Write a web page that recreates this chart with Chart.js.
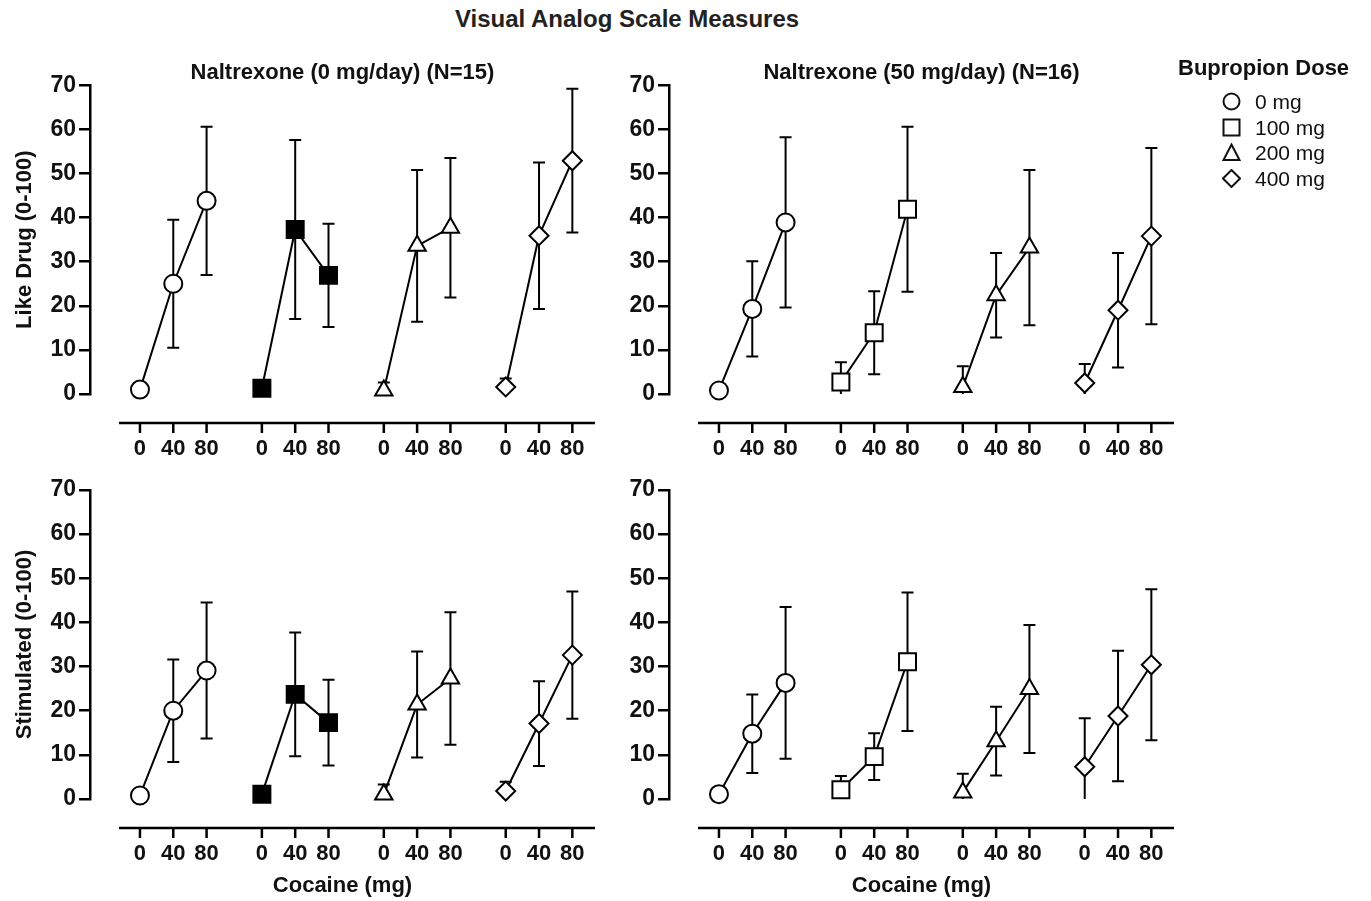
<!DOCTYPE html>
<html>
<head>
<meta charset="utf-8">
<script src="https://cdn.jsdelivr.net/npm/chart.js@4.4.1/dist/chart.umd.min.js"></script>
<style>
  body { margin: 0; background: #fff; font-family: "Liberation Sans", Arial, sans-serif; }
  #page { position: relative; width: 1371px; height: 901px; overflow: hidden; }
  canvas { position: absolute; }
  #mainTitle { position: absolute; left: 0; width: 1254px; top: 5px; text-align: center; font-weight: bold; font-size: 24px; color: #222; }
  #legend { position: absolute; left: 1178px; top: 55px; color: #111; }
  #legend .head { font-weight: bold; font-size: 22px; margin-bottom: 8px; }
  #legend .row { position: relative; height: 25.7px; font-size: 21px; line-height: 25px; padding-left: 77px; }
  #legend svg { position: absolute; left: 44px; top: 3px; }
</style>
</head>
<body>
<div id="page">
  <div id="mainTitle">Visual Analog Scale Measures</div>
  <canvas id="likeNal0" width="600" height="423" style="left:0;top:41px"></canvas>
  <canvas id="likeNal50" width="600" height="423" style="left:579px;top:41px"></canvas>
  <canvas id="stimNal0" width="600" height="429" style="left:0;top:470px"></canvas>
  <canvas id="stimNal50" width="600" height="429" style="left:579px;top:470px"></canvas>
  <div id="legend"></div>
</div>
<script>
// cocaine doses on the x axis, one group per bupropion dose
const cocaineDoses = ["0", "40", "80"];
const bupropionDoses = ["0 mg", "100 mg", "200 mg", "400 mg"];
const yTickValues = [0, 10, 20, 30, 40, 50, 60, 70];

// Like Drug, naltrexone 0 mg/day (rows = bupropion dose, cols = cocaine dose)
const likeNal0Mean = [[1.0, 25.0, 43.8], [1.3, 37.3, 26.9], [0.8, 33.6, 37.7], [1.6, 35.9, 52.9]];
const likeNal0Err = [[1.0, 14.5, 16.8], [1.0, 20.3, 11.7], [1.8, 17.2, 15.8], [1.9, 16.6, 16.3]];
// Like Drug, naltrexone 50 mg/day
const likeNal50Mean = [[0.8, 19.3, 38.9], [2.7, 13.9, 41.9], [1.6, 22.4, 33.2], [2.5, 19.0, 35.8]];
const likeNal50Err = [[0.8, 10.8, 19.3], [4.5, 9.4, 18.7], [4.7, 9.6, 17.6], [4.3, 13.0, 20.0]];
// Stimulated, naltrexone 0 mg/day
const stimNal0Mean = [[0.8, 20.0, 29.1], [1.1, 23.7, 17.3], [1.0, 21.4, 27.3], [1.8, 17.1, 32.6]];
const stimNal0Err = [[0.8, 11.6, 15.4], [1.0, 14.0, 9.7], [2.3, 12.0, 15.0], [2.1, 9.6, 14.4]];
// Stimulated, naltrexone 50 mg/day
const stimNal50Mean = [[1.1, 14.8, 26.3], [2.1, 9.6, 31.1], [1.5, 13.1, 24.9], [7.3, 18.8, 30.4]];
const stimNal50Err = [[1.1, 8.9, 17.2], [3.1, 5.3, 15.7], [4.2, 7.8, 14.5], [11.0, 14.8, 17.1]];

const GROUP_STEP = 3.66;   // gap between bupropion groups, in cocaine-step units
const X_LINE_START = -0.63;
const X_LINE_DROP = 29;    // x axis sits below the y=0 line
const FONT = "'Liberation Sans', Arial, sans-serif";

const markers = [
  { style: "circle", radius: 9 },
  { style: "rect", radius: 12 },
  { style: "triangle", radius: 10 },
  { style: "rectRot", radius: 9.5 },
];

const errorBars = {
  id: "errorBars",
  beforeDatasetsDraw(chart) {
    const { ctx, scales: { x, y } } = chart;
    ctx.save();
    ctx.strokeStyle = "#000";
    ctx.lineWidth = 2;
    chart.data.datasets.forEach((ds) => {
      ds.data.forEach((p, i) => {
        const e = ds.errors[i];
        const px = x.getPixelForValue(p.x);
        const top = y.getPixelForValue(p.y + e);
        const clipped = p.y - e < 0;
        const bot = y.getPixelForValue(Math.max(0, p.y - e));
        ctx.beginPath();
        ctx.moveTo(px, top);
        ctx.lineTo(px, bot);
        ctx.moveTo(px - 6, top);
        ctx.lineTo(px + 6, top);
        if (!clipped) {
          ctx.moveTo(px - 6, bot);
          ctx.lineTo(px + 6, bot);
        }
        ctx.stroke();
      });
    });
    ctx.restore();
  },
};

// the x axis line is drawn offset below the data, Prism style
const offsetXAxis = {
  id: "offsetXAxis",
  afterDraw(chart) {
    const { ctx, chartArea, scales: { x } } = chart;
    const yLine = chartArea.bottom + X_LINE_DROP;
    ctx.save();
    ctx.strokeStyle = "#000";
    ctx.lineWidth = 2.5;
    ctx.beginPath();
    ctx.moveTo(x.getPixelForValue(X_LINE_START), yLine);
    ctx.lineTo(chartArea.right, yLine);
    x.ticks.forEach((t) => {
      const px = x.getPixelForValue(t.value);
      ctx.moveTo(px, yLine);
      ctx.lineTo(px, yLine + 10);
    });
    ctx.stroke();
    ctx.restore();
  },
};

function makePanel(id, means, errs, opts) {
  const datasets = bupropionDoses.map((dose, g) => ({
    label: dose,
    data: cocaineDoses.map((c, i) => ({ x: g * GROUP_STEP + i, y: means[g][i] })),
    errors: errs[g],
    borderColor: "#000",
    borderWidth: 2,
    pointStyle: markers[g].style,
    pointRadius: markers[g].radius,
    pointHoverRadius: markers[g].radius,
    pointBorderWidth: 2,
    pointBorderColor: "#000",
    pointBackgroundColor: opts.filledSquares && g === 1 ? "#000" : "#fff",
    clip: false,
  }));

  const xTickValues = [];
  bupropionDoses.forEach((d, g) => cocaineDoses.forEach((c, i) => xTickValues.push(g * GROUP_STEP + i)));

  new Chart(document.getElementById(id), {
    type: "line",
    data: { datasets },
    options: {
      responsive: false,
      animation: false,
      layout: { autoPadding: false, padding: { left: 0, right: 5, top: opts.title ? 0 : 20, bottom: 0 } },
      plugins: {
        legend: { display: false },
        tooltip: { enabled: false },
        title: {
          display: !!opts.title,
          text: opts.title,
          fullSize: false,
          color: "#111",
          font: { family: FONT, size: 22, weight: "bold", lineHeight: 1.15 },
          padding: { top: 19, bottom: 0 },
        },
      },
      scales: {
        x: {
          type: "linear",
          min: -1.5,
          max: 13.66,
          afterBuildTicks: (scale) => {
            scale.ticks = xTickValues.map((v) => ({ value: v }));
          },
          afterFit: (scale) => {
            scale.height = opts.xTitle ? 100 : 70;
            scale.paddingLeft = 0;
            scale.paddingRight = 0;
          },
          border: { display: false },
          grid: { display: true, drawOnChartArea: false, drawTicks: true, tickLength: 39, tickColor: "rgba(0,0,0,0)" },
          ticks: {
            autoSkip: false,
            maxRotation: 0,
            padding: 3,
            color: "#111",
            font: { family: FONT, size: 22, weight: "bold" },
            callback: (v, i) => cocaineDoses[i % cocaineDoses.length],
          },
          title: {
            display: !!opts.xTitle,
            text: opts.xTitle,
            color: "#111",
            font: { family: FONT, size: 22, weight: "bold" },
            padding: { top: 0, bottom: 0 },
          },
        },
        y: {
          min: 0,
          max: 70,
          afterBuildTicks: (scale) => {
            scale.ticks = yTickValues.map((v) => ({ value: v }));
          },
          afterFit: (scale) => {
            scale.width = 90;
          },
          border: { display: true, color: "#000", width: 2.5 },
          grid: { drawOnChartArea: false, drawTicks: true, tickLength: 11, color: "#000", lineWidth: 2.5 },
          ticks: {
            padding: 3,
            color: "#111",
            font: { family: FONT, size: 23, weight: "bold" },
          },
          title: {
            display: !!opts.yTitle,
            text: opts.yTitle,
            color: "#111",
            font: { family: FONT, size: 22, weight: "bold" },
            padding: { top: 12, bottom: 0 },
          },
        },
      },
    },
    plugins: [errorBars, offsetXAxis],
  });
}

makePanel("likeNal0", likeNal0Mean, likeNal0Err, { title: "Naltrexone (0 mg/day) (N=15)", yTitle: "Like Drug (0-100)", filledSquares: true });
makePanel("likeNal50", likeNal50Mean, likeNal50Err, { title: "Naltrexone (50 mg/day) (N=16)" });
makePanel("stimNal0", stimNal0Mean, stimNal0Err, { yTitle: "Stimulated (0-100)", xTitle: "Cocaine (mg)", filledSquares: true });
makePanel("stimNal50", stimNal50Mean, stimNal50Err, { xTitle: "Cocaine (mg)" });

// legend: open symbols for every bupropion dose
const legendShapes = [
  '<circle cx="9.5" cy="9.5" r="8"/>',
  '<rect x="1.5" y="1.5" width="16" height="16"/>',
  '<polygon points="9.5,1.5 17.5,17 1.5,17"/>',
  '<polygon points="9.5,1 18,9.5 9.5,18 1,9.5"/>',
];
const legendEl = document.getElementById("legend");
let html = '<div class="head">Bupropion Dose</div>';
bupropionDoses.forEach((d, i) => {
  html += '<div class="row"><svg width="19" height="19" fill="none" stroke="#111" stroke-width="2">' +
    legendShapes[i] + "</svg>" + d + "</div>";
});
legendEl.innerHTML = html;
</script>
</body>
</html>
